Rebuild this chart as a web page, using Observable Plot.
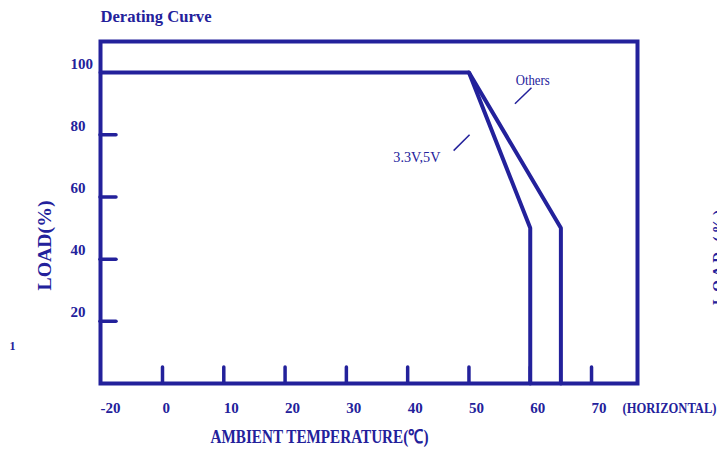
<!DOCTYPE html>
<html>
<head>
<meta charset="utf-8">
<script src="https://cdn.jsdelivr.net/npm/d3@7"></script>
<script src="https://cdn.jsdelivr.net/npm/@observablehq/plot@0.6"></script>
<style>
  html, body { margin: 0; padding: 0; background: #fff; }
  svg { display: block; }
</style>
</head>
<body>
<div id="chart"></div>
<script>
const color = "#23219b";
const serif = "'Liberation Serif', 'Times New Roman', serif";

// Data
const xTicks = [0, 10, 20, 30, 40, 50, 60, 70];
const xTickLabels = [-20, 0, 10, 20, 30, 40, 50, 60, 70];
const yTicks = [20, 40, 60, 80];
const yTickLabels = [20, 40, 60, 80, 100];
const seriesLowV = [ // 3.3V,5V
  {t: -20, load: 100}, {t: 50, load: 100}, {t: 60, load: 50}, {t: 60, load: 0}
];
const seriesOthers = [
  {t: 50, load: 100}, {t: 65, load: 50}, {t: 65, load: 0}
];
const annotations = [
  {label: "Others", t: 60.4, load: 97.5, x1: 57.5, y1: 90, x2: 60.2, y2: 95.1, len: 34},
  {label: "3.3V,5V", t: 41.5, load: 72.7, x1: 47.5, y1: 74.9, x2: 50.1, y2: 80, len: 47}
];

// The printed axis squeezes the span -20..0 to half the width of the rest.
const squeeze = 0.5058;
const W = 717, H = 451;
const chart = Plot.plot({
  width: W, height: H,
  marginLeft: 100, marginRight: 80, marginTop: 41, marginBottom: 68,
  x: {transform: d => (d < 0 ? d * squeeze : d), domain: [-20 * squeeze, 77.5], axis: null},
  y: {domain: [0, 110], axis: null},
  style: {fontFamily: serif, background: "#fff", overflow: "visible"},
  marks: [
    Plot.frame({stroke: color, strokeWidth: 4}),
    Plot.tickX(xTicks, {x: d => d, stroke: color, strokeWidth: 3.5, strokeLinecap: "round", insetTop: 326}),
    Plot.tickY(yTicks, {y: d => d, stroke: color, strokeWidth: 3.5, strokeLinecap: "round", insetRight: 521}),
    Plot.line(seriesLowV, {x: "t", y: "load", stroke: color, strokeWidth: 4, strokeLinejoin: "miter"}),
    Plot.line(seriesOthers, {x: "t", y: "load", stroke: color, strokeWidth: 4, strokeLinejoin: "miter"}),
    Plot.link(annotations, {x1: "x1", y1: "y1", x2: "x2", y2: "y2", stroke: color, strokeWidth: 1.5}),
    Plot.text(annotations, {x: "t", y: "load", text: "label", fill: color, fontSize: 14, lineAnchor: "middle", className: "anno"}),
    // x tick labels
    Plot.text(xTickLabels, {x: d => d, y: 0, text: d => String(d), fill: color, fontSize: 15, fontWeight: "bold", textAnchor: "start", lineAnchor: "bottom", dy: 29}),
    // y tick labels
    Plot.text(yTickLabels, {y: d => d, frameAnchor: "left", text: d => String(d), fill: color, fontSize: 15, fontWeight: "bold", textAnchor: "start", lineAnchor: "bottom", dx: -30, dy: -4}),
    Plot.text(["(HORIZONTAL)"], {frameAnchor: "bottom-right", fill: color, fontSize: 15, fontWeight: "bold", textAnchor: "start", lineAnchor: "bottom", dx: -15, dy: 29, className: "horiz"}),
    Plot.text(["AMBIENT TEMPERATURE(℃)"], {frameAnchor: "bottom-left", fill: color, fontSize: 19, fontWeight: "bold", textAnchor: "start", lineAnchor: "bottom", dx: 110, dy: 59, className: "xlabel"}),
    Plot.text(["LOAD(%)"], {frameAnchor: "left", fill: color, fontSize: 18, fontWeight: "bold", textAnchor: "middle", lineAnchor: "bottom", rotate: -90, dx: -50, dy: 33, className: "ylabel"}),
    Plot.text(["Derating Curve"], {frameAnchor: "top-left", fill: color, fontSize: 17, fontWeight: "bold", textAnchor: "start", lineAnchor: "bottom", dy: -20, className: "title"}),
    Plot.text(["1"], {frameAnchor: "bottom-left", fill: color, fontSize: 12, fontWeight: "bold", textAnchor: "start", lineAnchor: "bottom", dx: -91, dy: -34}),
    Plot.text(["LOAD (%)"], {frameAnchor: "right", fill: color, fontSize: 15, fontWeight: "bold", textAnchor: "middle", lineAnchor: "bottom", rotate: -90, dx: 85, dy: 45, className: "ghost"})
  ]
});
document.getElementById("chart").appendChild(chart);

const svg = d3.select(chart);
function fit(cls, len, adjust) {
  svg.selectAll(`.${cls} text`).attr("textLength", len).attr("lengthAdjust", adjust || "spacingAndGlyphs");
}
fit("title", 111);
fit("xlabel", 218);
fit("ylabel", 90);
fit("horiz", 94);
fit("ghost", 95, "spacing");
svg.selectAll(".anno text").attr("textLength", (d, i) => annotations[i] ? annotations[i].len : null).attr("lengthAdjust", "spacingAndGlyphs");
</script>
</body>
</html>
